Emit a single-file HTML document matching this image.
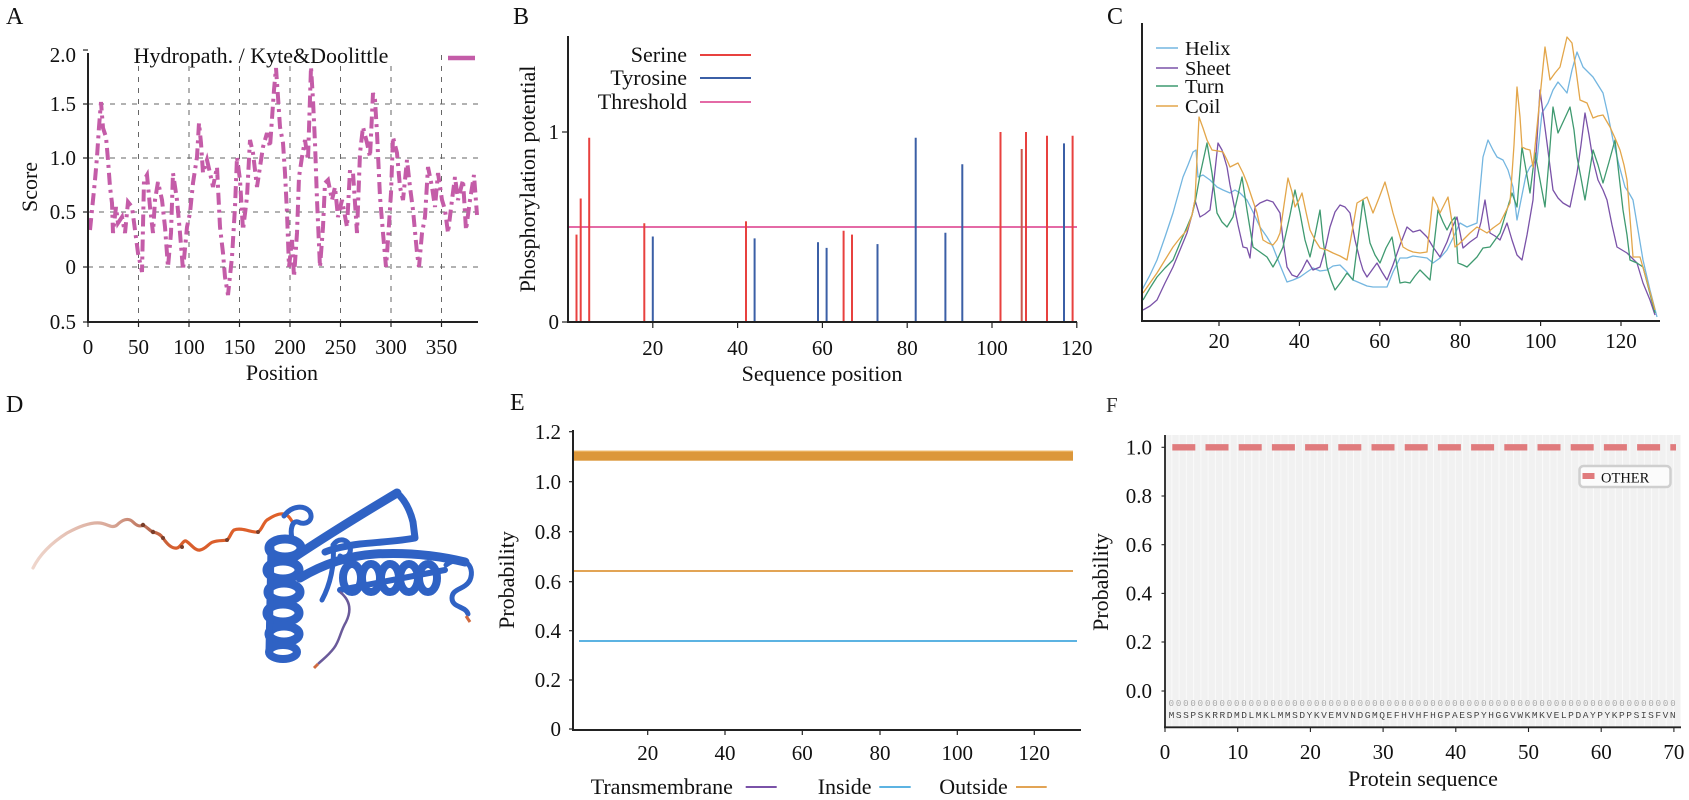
<!DOCTYPE html>
<html><head><meta charset="utf-8"><style>
html,body{margin:0;padding:0;background:#fff;}
svg{display:block;}
text{font-family:"Liberation Serif",serif;fill:#111;}
</style></head><body>
<svg width="1689" height="800" viewBox="0 0 1689 800" xmlns="http://www.w3.org/2000/svg">
<defs>
<pattern id="st" x="1165" y="0" width="7.27" height="20" patternUnits="userSpaceOnUse">
<rect width="7.27" height="20" fill="#f1f1f1"/><rect x="6.4" width="0.9" height="20" fill="#fbfbfb"/>
</pattern>
<linearGradient id="tailg" x1="33" y1="0" x2="293" y2="0" gradientUnits="userSpaceOnUse">
<stop offset="0" stop-color="#efd6cc"/><stop offset="0.3" stop-color="#d9a898"/><stop offset="0.45" stop-color="#b8684e"/><stop offset="0.55" stop-color="#d85e2c"/><stop offset="1" stop-color="#e0602a"/>
</linearGradient>
</defs>

<!-- ============ PANEL A ============ -->
<text x="6" y="24" font-size="24">A</text>
<g stroke="#666" stroke-width="1" stroke-dasharray="5 6" fill="none">
<line x1="88" y1="104" x2="478" y2="104"/><line x1="88" y1="158" x2="478" y2="158"/>
<line x1="88" y1="212" x2="478" y2="212"/><line x1="88" y1="267" x2="478" y2="267"/>
<line x1="138.5" y1="55" x2="138.5" y2="322"/><line x1="189" y1="55" x2="189" y2="322"/>
<line x1="239.5" y1="55" x2="239.5" y2="322"/><line x1="290" y1="55" x2="290" y2="322"/>
<line x1="340.5" y1="55" x2="340.5" y2="322"/><line x1="391" y1="55" x2="391" y2="322"/>
<line x1="441.5" y1="55" x2="441.5" y2="322"/>
</g>
<polyline fill="none" stroke="#c45ca8" stroke-width="4" stroke-dasharray="12 5 3 5" stroke-linejoin="miter" points="90,230 93,200 95,180 97,157 99,127 101,102 103,128 106,137 108,160 110,187 112,203 113,233 116,207 118,223 122,217 125,233 128,202 132,207 135,230 138,253 142,272 144,180 147,175 150,207 153,233 155,200 158,182 162,200 165,227 168,267 171,233 173,173 177,200 180,233 183,270 187,227 190,213 193,183 197,157 199,123 201,143 203,173 207,160 210,173 213,187 217,167 220,227 223,253 225,277 228,295 232,257 235,207 237,157 240,180 243,230 247,197 250,140 253,153 257,187 260,167 263,147 267,133 270,147 274,90 276,68 278,97 280,127 283,143 285,173 287,213 289,267 292,240 294,277 297,233 299,177 302,157 305,140 308,160 311,67 313,100 315,143 317,200 320,267 323,227 325,183 328,180 332,200 335,187 338,217 342,200 347,227 350,170 353,173 357,233 360,153 363,127 367,143 370,157 373,93 375,100 377,133 380,197 383,233 386,267 388,240 391,193 393,137 397,153 400,187 403,200 407,160 410,187 413,210 417,253 419,267 422,233 425,217 428,167 432,187 435,207 438,173 442,200 445,210 448,233 452,200 455,177 458,200 463,180 466,230 470,200 474,175 477,215"/>
<g stroke="#222" stroke-width="2" fill="none">
<line x1="88" y1="53" x2="88" y2="323"/><line x1="87" y1="322" x2="478" y2="322"/>
</g>
<g stroke="#222" stroke-width="1.2">
<line x1="83" y1="50" x2="88" y2="50"/><line x1="83" y1="104" x2="88" y2="104"/><line x1="83" y1="158" x2="88" y2="158"/><line x1="83" y1="212" x2="88" y2="212"/><line x1="83" y1="267" x2="88" y2="267"/><line x1="83" y1="322" x2="88" y2="322"/>
<line x1="88" y1="322" x2="88" y2="327"/><line x1="138.5" y1="322" x2="138.5" y2="327"/><line x1="189" y1="322" x2="189" y2="327"/><line x1="239.5" y1="322" x2="239.5" y2="327"/><line x1="290" y1="322" x2="290" y2="327"/><line x1="340.5" y1="322" x2="340.5" y2="327"/><line x1="391" y1="322" x2="391" y2="327"/><line x1="441.5" y1="322" x2="441.5" y2="327"/>
</g>
<g font-size="21" text-anchor="end">
<text x="76" y="62">2.0</text><text x="76" y="111">1.5</text><text x="76" y="165">1.0</text><text x="76" y="219">0.5</text><text x="76" y="274">0</text><text x="76" y="329">0.5</text>
</g>
<g font-size="21" text-anchor="middle">
<text x="88" y="354">0</text><text x="138.5" y="354">50</text><text x="189" y="354">100</text><text x="239.5" y="354">150</text><text x="290" y="354">200</text><text x="340.5" y="354">250</text><text x="391" y="354">300</text><text x="441.5" y="354">350</text>
</g>
<text x="282" y="380" font-size="22" text-anchor="middle">Position</text>
<text transform="translate(37,187) rotate(-90)" font-size="22" text-anchor="middle">Score</text>
<rect x="128" y="40" width="266" height="26" fill="#fff"/>
<text x="261" y="63" font-size="22" text-anchor="middle">Hydropath. / Kyte&amp;Doolittle</text>
<line x1="448" y1="58" x2="475" y2="58" stroke="#c45ca8" stroke-width="4.5"/>

<!-- ============ PANEL B ============ -->
<text x="513" y="24" font-size="24">B</text>
<line x1="568" y1="227" x2="1077" y2="227" stroke="#e46aa6" stroke-width="2"/>
<g stroke="#e8413f" stroke-width="2">
<line x1="576.5" y1="322" x2="576.5" y2="234.6"/>
<line x1="580.7" y1="322" x2="580.7" y2="198.5"/>
<line x1="589.2" y1="322" x2="589.2" y2="137.7"/>
<line x1="644.3" y1="322" x2="644.3" y2="223.2"/>
<line x1="746" y1="322" x2="746" y2="221.3"/>
<line x1="843.6" y1="322" x2="843.6" y2="230.8"/>
<line x1="852" y1="322" x2="852" y2="234.6"/>
<line x1="1000.5" y1="322" x2="1000.5" y2="132"/>
<line x1="1021.7" y1="322" x2="1021.7" y2="149" stroke="#c8574e"/>
<line x1="1026" y1="322" x2="1026" y2="132"/>
<line x1="1047" y1="322" x2="1047" y2="135.8"/>
<line x1="1072.6" y1="322" x2="1072.6" y2="135.8"/>
</g>
<g stroke="#3b5fa6" stroke-width="2">
<line x1="652.8" y1="322" x2="652.8" y2="236.5"/>
<line x1="754.6" y1="322" x2="754.6" y2="238.4"/>
<line x1="818" y1="322" x2="818" y2="242.2"/>
<line x1="826.6" y1="322" x2="826.6" y2="247.9"/>
<line x1="877.5" y1="322" x2="877.5" y2="244.1"/>
<line x1="915.7" y1="322" x2="915.7" y2="137.7"/>
<line x1="945.4" y1="322" x2="945.4" y2="232.7"/>
<line x1="962.3" y1="322" x2="962.3" y2="164.3"/>
<line x1="1064" y1="322" x2="1064" y2="143.4"/>
</g>
<g stroke="#222" stroke-width="2" fill="none">
<line x1="568" y1="36" x2="568" y2="323"/><line x1="567" y1="322" x2="1077" y2="322"/>
</g>
<g stroke="#222" stroke-width="1.2">
<line x1="562" y1="132" x2="568" y2="132"/><line x1="562" y1="322" x2="568" y2="322"/>
<line x1="652.8" y1="322" x2="652.8" y2="328"/><line x1="737.6" y1="322" x2="737.6" y2="328"/><line x1="822.4" y1="322" x2="822.4" y2="328"/><line x1="907.2" y1="322" x2="907.2" y2="328"/><line x1="992" y1="322" x2="992" y2="328"/><line x1="1076.8" y1="322" x2="1076.8" y2="328"/>
</g>
<g font-size="21" text-anchor="end"><text x="559" y="139">1</text><text x="559" y="329">0</text></g>
<g font-size="21" text-anchor="middle">
<text x="652.8" y="355">20</text><text x="737.6" y="355">40</text><text x="822.4" y="355">60</text><text x="907.2" y="355">80</text><text x="992" y="355">100</text><text x="1076.8" y="355">120</text>
</g>
<text x="822" y="381" font-size="22" text-anchor="middle">Sequence position</text>
<text transform="translate(535,179) rotate(-90)" font-size="22" text-anchor="middle">Phosphorylation potential</text>
<g font-size="22" text-anchor="end">
<text x="687" y="62">Serine</text><text x="687" y="85">Tyrosine</text><text x="687" y="109">Threshold</text>
</g>
<line x1="700" y1="55" x2="751" y2="55" stroke="#e8413f" stroke-width="2"/>
<line x1="700" y1="78" x2="751" y2="78" stroke="#3b5fa6" stroke-width="2"/>
<line x1="700" y1="102" x2="751" y2="102" stroke="#e46aa6" stroke-width="2"/>

<!-- ============ PANEL C ============ -->
<text x="1107" y="24" font-size="24">C</text>
<g fill="none" stroke-width="1.3" stroke-linejoin="round">
<polyline stroke="#74b6e0" points="1142,290 1150,275 1157,260 1165,237 1173,213 1178,195 1183,177 1188,165 1193,152 1196,150 1198,177 1203,175 1210,180 1217,187 1223,190 1230,193 1235,190 1240,193 1247,200 1253,212 1260,227 1267,237 1273,247 1280,265 1287,282 1293,280 1300,277 1307,272 1313,268 1320,271 1327,270 1333,266 1340,265 1347,272 1353,280 1360,283 1367,286 1373,287 1380,287 1387,287 1393,272 1400,258 1407,258 1413,256 1420,257 1427,258 1433,263 1440,258 1447,250 1453,238 1460,223 1467,227 1472,225 1477,223 1480,190 1483,157 1488,140 1493,150 1497,157 1503,160 1508,170 1513,187 1517,220 1522,195 1526,175 1530,167 1537,160 1542,113 1548,103 1553,90 1558,82 1563,88 1567,93 1572,70 1577,52 1583,67 1588,72 1593,77 1598,85 1603,93 1608,115 1613,140 1619,165 1625,187 1629,193 1633,200 1638,230 1643,260 1650,290 1657,317"/>
<polyline stroke="#7a52a8" points="1143,310 1150,306 1157,300 1165,283 1173,267 1180,250 1187,233 1192,215 1195,200 1200,217 1205,214 1210,210 1214,180 1218,143 1222,150 1227,167 1230,185 1233,200 1238,225 1243,247 1247,248 1250,258 1255,207 1260,203 1267,200 1273,202 1280,213 1283,240 1287,267 1292,275 1297,277 1302,270 1307,260 1313,270 1320,267 1325,250 1330,227 1335,212 1340,205 1345,207 1350,213 1355,240 1360,260 1363,270 1367,277 1372,270 1377,263 1382,272 1387,280 1393,265 1400,245 1407,227 1413,232 1420,230 1427,237 1433,247 1440,257 1447,242 1452,228 1457,217 1463,248 1470,242 1477,237 1481,222 1485,200 1490,233 1495,236 1500,240 1507,223 1512,240 1517,255 1522,260 1527,235 1533,200 1537,140 1540,90 1547,143 1553,190 1558,198 1563,203 1570,207 1577,173 1581,145 1585,113 1589,135 1593,160 1598,180 1603,190 1607,200 1612,225 1617,247 1622,250 1627,253 1632,258 1637,263 1643,283 1650,300 1655,315"/>
<polyline stroke="#3f9a70" points="1143,300 1150,288 1157,277 1165,268 1173,260 1180,243 1187,227 1192,215 1195,203 1200,175 1207,143 1212,173 1217,213 1222,222 1227,227 1233,217 1238,195 1242,177 1247,210 1253,247 1260,252 1267,257 1273,267 1278,258 1283,247 1290,215 1295,190 1300,213 1305,240 1310,257 1315,235 1320,210 1323,240 1327,267 1331,280 1335,290 1341,282 1347,273 1353,280 1358,240 1363,200 1367,225 1370,243 1375,255 1380,263 1386,248 1392,237 1396,260 1400,283 1405,282 1410,283 1415,276 1420,270 1425,275 1430,280 1434,245 1438,210 1443,222 1447,230 1451,222 1455,217 1458,263 1463,265 1467,267 1472,262 1477,257 1483,248 1490,247 1495,240 1500,233 1506,213 1512,193 1517,207 1522,147 1526,170 1530,193 1535,153 1540,180 1545,207 1549,160 1553,107 1558,133 1564,120 1570,107 1574,130 1577,157 1581,178 1585,200 1589,175 1593,150 1598,165 1603,183 1609,162 1615,140 1619,175 1623,210 1627,235 1630,260 1637,263 1643,267 1649,290 1655,313"/>
<polyline stroke="#e3a64a" points="1143,293 1150,283 1157,273 1165,260 1173,247 1180,238 1187,230 1192,215 1195,200 1199,117 1203,128 1207,140 1212,150 1218,151 1223,152 1227,160 1230,167 1234,165 1238,163 1243,173 1247,183 1252,198 1257,213 1260,227 1263,240 1268,243 1273,245 1277,240 1280,233 1284,205 1288,178 1292,192 1295,207 1299,200 1302,193 1306,212 1310,230 1315,240 1320,248 1327,250 1333,253 1340,256 1347,260 1352,232 1357,203 1362,200 1367,197 1370,205 1373,213 1379,198 1385,182 1389,197 1393,213 1398,230 1403,247 1408,250 1413,252 1420,253 1427,252 1430,225 1433,197 1437,205 1440,213 1444,205 1448,197 1452,222 1455,247 1459,244 1463,240 1470,233 1477,227 1482,230 1487,233 1493,228 1500,223 1505,213 1510,203 1514,145 1517,87 1520,117 1522,147 1526,149 1530,150 1533,167 1539,107 1545,47 1550,80 1555,73 1560,67 1564,50 1567,37 1572,43 1576,70 1580,100 1587,103 1593,118 1598,116 1603,115 1610,127 1615,138 1620,150 1624,165 1627,180 1630,218 1633,257 1640,257 1648,285 1655,310"/>
</g>
<g stroke="#222" stroke-width="2" fill="none">
<line x1="1142" y1="23" x2="1142" y2="322"/><line x1="1141" y1="321" x2="1660" y2="321"/>
</g>
<g stroke="#222" stroke-width="1.2">
<line x1="1219" y1="321" x2="1219" y2="326"/><line x1="1299.4" y1="321" x2="1299.4" y2="326"/><line x1="1379.8" y1="321" x2="1379.8" y2="326"/><line x1="1460.2" y1="321" x2="1460.2" y2="326"/><line x1="1540.6" y1="321" x2="1540.6" y2="326"/><line x1="1621" y1="321" x2="1621" y2="326"/>
</g>
<g font-size="21" text-anchor="middle">
<text x="1219" y="348">20</text><text x="1299.4" y="348">40</text><text x="1379.8" y="348">60</text><text x="1460.2" y="348">80</text><text x="1540.6" y="348">100</text><text x="1621" y="348">120</text>
</g>
<g stroke-width="1.5">
<line x1="1156" y1="48" x2="1178" y2="48" stroke="#74b6e0"/>
<line x1="1156" y1="68" x2="1178" y2="68" stroke="#7a52a8"/>
<line x1="1156" y1="86" x2="1178" y2="86" stroke="#3f9a70"/>
<line x1="1156" y1="106" x2="1178" y2="106" stroke="#e3a64a"/>
</g>
<g font-size="20.5">
<text x="1185" y="55">Helix</text><text x="1185" y="75">Sheet</text><text x="1185" y="93">Turn</text><text x="1185" y="113">Coil</text>
</g>

<!-- ============ PANEL D ============ -->
<text x="6" y="412" font-size="24">D</text>
<path d="M33,568 C38,558 48,545 67,533 C78,527 90,522 100,523 C108,524 112,529 117,525 C122,520 128,517 133,522 C137,526 140,527 143,525 C147,527 150,531 153,532 C158,533 161,535 163,538 C167,544 172,549 177,548 C181,547 183,540 186,541 C191,544 195,551 200,550 C206,549 209,543 213,542 C218,540 224,541 227,540 C230,538 231,532 234,530 C242,527 252,533 258,532 C262,530 263,523 267,520 C273,516 279,513 284,514 C289,515 291,520 293,523" fill="none" stroke="url(#tailg)" stroke-width="3.2" stroke-linecap="round"/>
<g fill="#7a3e2a"><circle cx="143" cy="525" r="2.2"/><circle cx="153" cy="532" r="2.2"/><circle cx="163" cy="538" r="2"/><circle cx="182" cy="547" r="2"/><circle cx="227" cy="540" r="2"/><circle cx="258" cy="532" r="2"/></g>
<g fill="none" stroke="#2f62c4" stroke-width="8" stroke-linecap="round" stroke-linejoin="round">
<path d="M284,516 C292,505 305,505 310,512 C314,520 306,526 298,522 C292,520 290,530 292,538" stroke-width="5"/>
<ellipse cx="285" cy="548" rx="16" ry="9" stroke-width="9"/>
<ellipse cx="283" cy="570" rx="16" ry="9" stroke-width="9"/>
<ellipse cx="284" cy="592" rx="16" ry="9" stroke-width="9"/>
<ellipse cx="283" cy="613" rx="16" ry="9" stroke-width="9"/>
<ellipse cx="284" cy="634" rx="15" ry="8" stroke-width="9"/>
<ellipse cx="283" cy="652" rx="14" ry="7" stroke-width="8"/>
<path d="M271,548 L269,652" stroke-width="7"/>
<path d="M290,560 C320,540 360,515 397,493" stroke-width="9"/>
<path d="M397,493 C405,500 410,510 413,522 L415,538 C400,541 380,542 360,544 C345,546 335,548 325,552" stroke-width="7"/>
<path d="M300,578 C320,566 345,556 375,554 C410,552 440,556 465,562" stroke-width="9"/>
<path d="M322,600 C330,585 335,565 333,545 C338,538 346,538 350,546 C352,555 345,560 340,556" stroke-width="5"/>
<ellipse cx="352" cy="578" rx="9" ry="14" stroke-width="8"/>
<ellipse cx="371" cy="578" rx="9" ry="14" stroke-width="8"/>
<ellipse cx="390" cy="578" rx="9" ry="14" stroke-width="8"/>
<ellipse cx="409" cy="578" rx="9" ry="14" stroke-width="8"/>
<ellipse cx="428" cy="578" rx="9" ry="14" stroke-width="8"/>
<path d="M340,590 L445,570" stroke-width="6"/>
<path d="M446,565 C462,553 476,565 470,580 C465,590 452,588 452,598 C452,608 466,606 468,614" stroke-width="5"/>
</g>
<path d="M340,592 C350,600 352,610 346,622 C340,632 340,640 334,648 C328,656 322,660 318,664" fill="none" stroke="#6a5a9a" stroke-width="2.5"/>
<path d="M318,664 L314,668" stroke="#d06a40" stroke-width="3"/>
<path d="M466,616 L470,622" stroke="#d06a40" stroke-width="3"/>

<!-- ============ PANEL E ============ -->
<text x="510" y="410" font-size="24">E</text>
<rect x="574" y="450.7" width="499" height="10" fill="#dc973a"/>
<line x1="574" y1="451.2" x2="1073" y2="451.2" stroke="#f0b868" stroke-width="1"/>
<line x1="574" y1="571" x2="1073" y2="571" stroke="#e2a455" stroke-width="2"/>
<line x1="579" y1="641" x2="1077" y2="641" stroke="#5cb3e2" stroke-width="2"/>
<g stroke="#222" stroke-width="2" fill="none">
<line x1="573" y1="430" x2="573" y2="731"/><line x1="572" y1="730" x2="1081" y2="730"/>
</g>
<g stroke="#222" stroke-width="1.2">
<line x1="569" y1="431.7" x2="573" y2="431.7"/><line x1="569" y1="481.7" x2="573" y2="481.7"/><line x1="569" y1="531.7" x2="573" y2="531.7"/><line x1="569" y1="581.7" x2="573" y2="581.7"/><line x1="569" y1="630.7" x2="573" y2="630.7"/><line x1="569" y1="680" x2="573" y2="680"/><line x1="569" y1="729" x2="573" y2="729"/>
<line x1="647.7" y1="730" x2="647.7" y2="735"/><line x1="725" y1="730" x2="725" y2="735"/><line x1="802.3" y1="730" x2="802.3" y2="735"/><line x1="880" y1="730" x2="880" y2="735"/><line x1="957.3" y1="730" x2="957.3" y2="735"/><line x1="1034.3" y1="730" x2="1034.3" y2="735"/>
</g>
<g font-size="21" text-anchor="end">
<text x="561" y="439">1.2</text><text x="561" y="489">1.0</text><text x="561" y="539">0.8</text><text x="561" y="589">0.6</text><text x="561" y="638">0.4</text><text x="561" y="687">0.2</text><text x="561" y="736">0</text>
</g>
<g font-size="21" text-anchor="middle">
<text x="647.7" y="760">20</text><text x="725" y="760">40</text><text x="802.3" y="760">60</text><text x="880" y="760">80</text><text x="957.3" y="760">100</text><text x="1034.3" y="760">120</text>
</g>
<text transform="translate(514,580) rotate(-90)" font-size="22" text-anchor="middle">Probability</text>
<g font-size="22">
<text x="590.7" y="794">Transmembrane</text><text x="817.7" y="794">Inside</text><text x="939.3" y="794">Outside</text>
</g>
<g stroke-width="2">
<line x1="745.7" y1="787" x2="776.7" y2="787" stroke="#7a52a8"/>
<line x1="879.3" y1="787" x2="910.7" y2="787" stroke="#5cb3e2"/>
<line x1="1016" y1="787" x2="1046.7" y2="787" stroke="#e2a455"/>
</g>

<!-- ============ PANEL F ============ -->
<text x="1106" y="412" font-size="21" style="fill:#333">F</text>
<rect x="1165" y="435" width="516" height="292" fill="url(#st)"/>
<line x1="1172.3" y1="447.3" x2="1676" y2="447.3" stroke="#e07b7d" stroke-width="6.3" stroke-dasharray="23 10.2"/>
<text x="1168.6" y="706" style="font-family:'Liberation Mono',monospace;font-size:9px;fill:#a8a8a8" textLength="507" lengthAdjust="spacing">0000000000000000000000000000000000000000000000000000000000000000000000</text>
<text x="1168.6" y="718" style="font-family:'Liberation Mono',monospace;font-size:9.5px;fill:#444" textLength="507" lengthAdjust="spacing">MSSPSKRRDMDLMKLMMSDYKVEMVNDGMQEFHVHFHGPAESPYHGGVWKMKVELPDAYPYKPPSISFVN</text>
<rect x="1579.5" y="466" width="91" height="21" rx="4" fill="#fbfbfb" stroke="#cfcfcf" stroke-width="2.5"/>
<rect x="1582.5" y="473" width="12" height="6" fill="#e07b7d"/>
<text x="1601" y="482.5" font-size="14.5">OTHER</text>
<g stroke="#222" stroke-width="1.8" fill="none">
<line x1="1165" y1="435" x2="1165" y2="728"/><line x1="1164" y1="727.3" x2="1681" y2="727.3"/>
</g>
<g stroke="#222" stroke-width="1.1">
<line x1="1161.5" y1="447.3" x2="1165" y2="447.3"/><line x1="1161.5" y1="496" x2="1165" y2="496"/><line x1="1161.5" y1="544.7" x2="1165" y2="544.7"/><line x1="1161.5" y1="593.4" x2="1165" y2="593.4"/><line x1="1161.5" y1="642" x2="1165" y2="642"/><line x1="1161.5" y1="691" x2="1165" y2="691"/>
<line x1="1165" y1="727" x2="1165" y2="732"/><line x1="1237.7" y1="727" x2="1237.7" y2="732"/><line x1="1310.4" y1="727" x2="1310.4" y2="732"/><line x1="1383.1" y1="727" x2="1383.1" y2="732"/><line x1="1455.8" y1="727" x2="1455.8" y2="732"/><line x1="1528.5" y1="727" x2="1528.5" y2="732"/><line x1="1601.2" y1="727" x2="1601.2" y2="732"/><line x1="1673.9" y1="727" x2="1673.9" y2="732"/>
</g>
<g font-size="21" text-anchor="end">
<text x="1152" y="454.5">1.0</text><text x="1152" y="503">0.8</text><text x="1152" y="552">0.6</text><text x="1152" y="600.5">0.4</text><text x="1152" y="649">0.2</text><text x="1152" y="698">0.0</text>
</g>
<g font-size="21" text-anchor="middle">
<text x="1165" y="759">0</text><text x="1237.7" y="759">10</text><text x="1310.4" y="759">20</text><text x="1383.1" y="759">30</text><text x="1455.8" y="759">40</text><text x="1528.5" y="759">50</text><text x="1601.2" y="759">60</text><text x="1673.9" y="759">70</text>
</g>
<text x="1423" y="786" font-size="22" text-anchor="middle">Protein sequence</text>
<text transform="translate(1108,582) rotate(-90)" font-size="22" text-anchor="middle">Probability</text>
</svg>
</body></html>
